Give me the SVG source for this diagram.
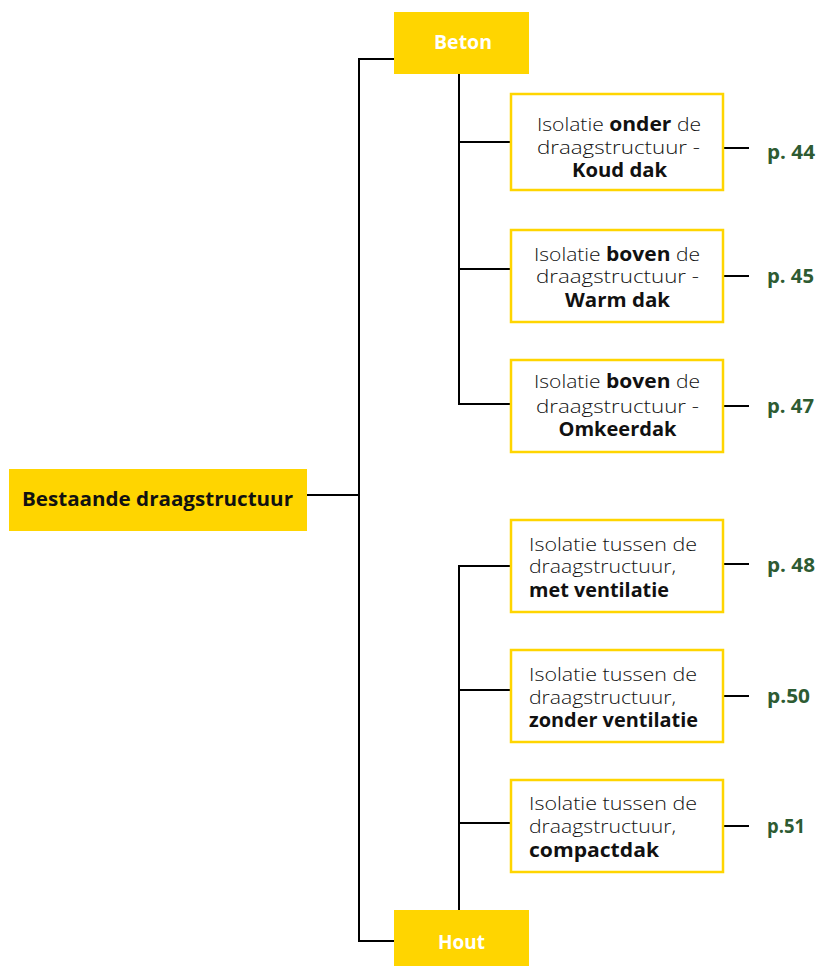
<svg xmlns="http://www.w3.org/2000/svg" width="818" height="966" viewBox="0 0 818 966">
<style>
.fill{fill:#FFD500}
.box{fill:#ffffff;stroke:#FFD500;stroke-width:2.5}
.ln{stroke:#000;stroke-width:2;fill:none}
text{font-family:"Open Sans","Liberation Sans",sans-serif}
.t{font-size:19px;font-weight:300;fill:#111}
.c{text-anchor:middle}
.b{font-weight:700}
.w{font-size:19px;font-weight:700;fill:#fff;text-anchor:middle}
.m{font-size:19.5px;font-weight:700;fill:#111;text-anchor:middle}
.p{font-size:20px;font-weight:700;fill:#2E5B32}
</style>
<rect width="818" height="966" fill="#fff"/>
<g id="connectors">
<path class="ln" d="M307 495H359M394 59H359V941H394"/>
<path class="ln" d="M459 74V404H511M459 142H511M459 269H511"/>
<path class="ln" d="M459 910V566H511M459 690H511M459 823H511"/>
<path class="ln" d="M723 148H749M723 276H749M723 406H749M723 564H749M723 696H749M723 826H749"/>
</g>
<g id="root"><rect class="fill" x="9" y="469" width="298" height="62"/><text class="m" x="157.5" y="506" textLength="271" lengthAdjust="spacingAndGlyphs">Bestaande draagstructuur</text></g>
<g id="beton"><rect class="fill" x="394" y="12" width="135" height="62"/><text class="w" x="463" y="49" textLength="58" lengthAdjust="spacingAndGlyphs">Beton</text></g>
<g id="hout"><rect class="fill" x="394" y="910" width="135" height="56"/><text class="w" x="461.5" y="949" textLength="47" lengthAdjust="spacingAndGlyphs">Hout</text></g>
<g id="n1"><rect class="box" x="511" y="94" width="212" height="96"/>
<text class="t c"><tspan x="619" y="131" textLength="164" lengthAdjust="spacingAndGlyphs">Isolatie <tspan class="b">onder</tspan> de</tspan><tspan x="618.5" y="154" textLength="163" lengthAdjust="spacingAndGlyphs">draagstructuur -</tspan><tspan class="b" x="619.5" y="177" textLength="95" lengthAdjust="spacingAndGlyphs">Koud dak</tspan></text></g>
<g id="n2"><rect class="box" x="511" y="230" width="212" height="92"/>
<text class="t c"><tspan x="617" y="261" textLength="166" lengthAdjust="spacingAndGlyphs">Isolatie <tspan class="b">boven</tspan> de</tspan><tspan x="617.5" y="283" textLength="163" lengthAdjust="spacingAndGlyphs">draagstructuur -</tspan><tspan class="b" x="617.5" y="307" textLength="105" lengthAdjust="spacingAndGlyphs">Warm dak</tspan></text></g>
<g id="n3"><rect class="box" x="511" y="360" width="212" height="92"/>
<text class="t c"><tspan x="617" y="388" textLength="166" lengthAdjust="spacingAndGlyphs">Isolatie <tspan class="b">boven</tspan> de</tspan><tspan x="617.5" y="413" textLength="163" lengthAdjust="spacingAndGlyphs">draagstructuur -</tspan><tspan class="b" x="617.5" y="436" textLength="118" lengthAdjust="spacingAndGlyphs">Omkeerdak</tspan></text></g>
<g id="n4"><rect class="box" x="511" y="520" width="212" height="92"/>
<text class="t"><tspan x="529" y="551" textLength="168" lengthAdjust="spacingAndGlyphs">Isolatie tussen de</tspan><tspan x="529" y="573" textLength="147" lengthAdjust="spacingAndGlyphs">draagstructuur,</tspan><tspan class="b" x="529" y="597" textLength="140" lengthAdjust="spacingAndGlyphs">met ventilatie</tspan></text></g>
<g id="n5"><rect class="box" x="511" y="650" width="212" height="92"/>
<text class="t"><tspan x="529" y="681" textLength="168" lengthAdjust="spacingAndGlyphs">Isolatie tussen de</tspan><tspan x="529" y="704" textLength="147" lengthAdjust="spacingAndGlyphs">draagstructuur,</tspan><tspan class="b" x="529" y="727" textLength="169" lengthAdjust="spacingAndGlyphs">zonder ventilatie</tspan></text></g>
<g id="n6"><rect class="box" x="511" y="780" width="212" height="92"/>
<text class="t"><tspan x="529" y="810" textLength="168" lengthAdjust="spacingAndGlyphs">Isolatie tussen de</tspan><tspan x="529" y="833" textLength="147" lengthAdjust="spacingAndGlyphs">draagstructuur,</tspan><tspan class="b" x="529" y="857" textLength="130" lengthAdjust="spacingAndGlyphs">compactdak</tspan></text></g>
<g id="pages">
<text class="p" x="767" y="159" textLength="48" lengthAdjust="spacingAndGlyphs">p. 44</text>
<text class="p" x="767" y="283" textLength="47" lengthAdjust="spacingAndGlyphs">p. 45</text>
<text class="p" x="767" y="413" textLength="47" lengthAdjust="spacingAndGlyphs">p. 47</text>
<text class="p" x="767" y="572" textLength="48" lengthAdjust="spacingAndGlyphs">p. 48</text>
<text class="p" x="767" y="703" textLength="43" lengthAdjust="spacingAndGlyphs">p.50</text>
<text class="p" x="767" y="833" textLength="38" lengthAdjust="spacingAndGlyphs">p.51</text>
</g>
</svg>
